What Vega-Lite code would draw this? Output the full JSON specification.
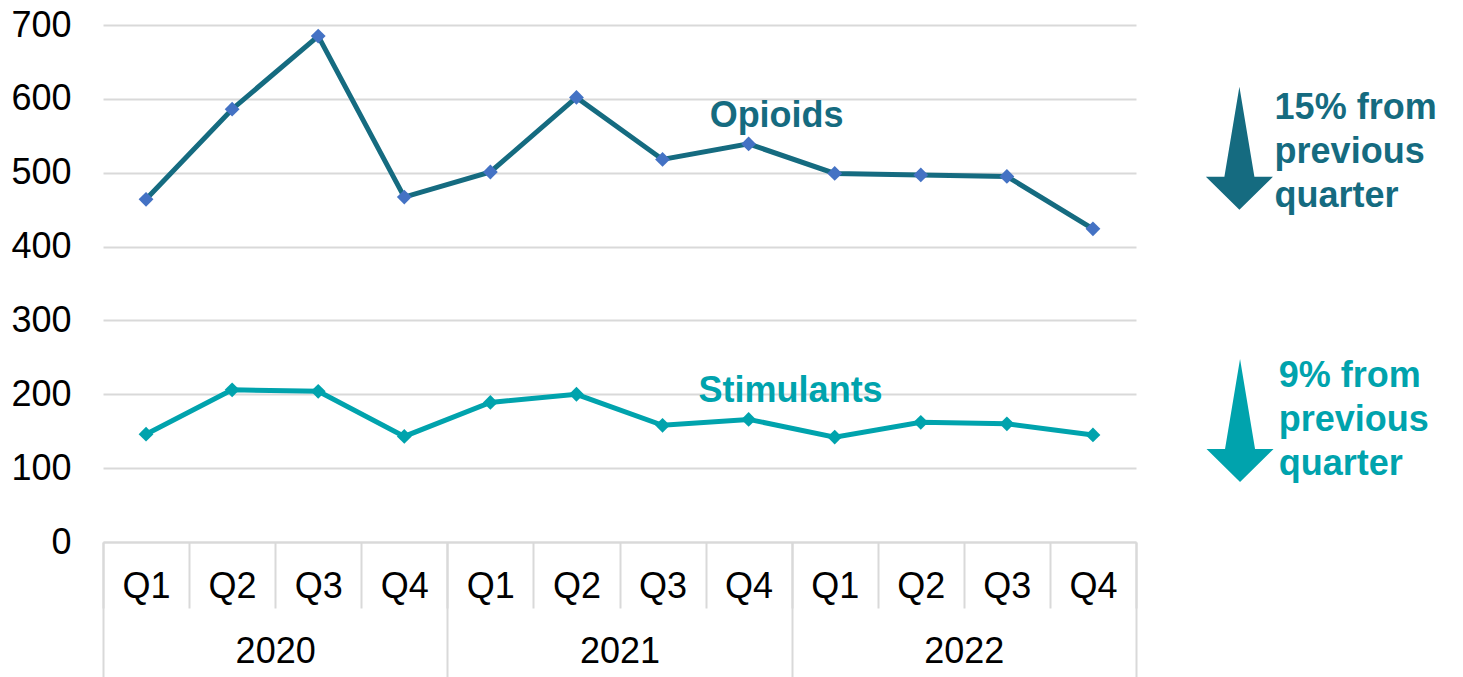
{
  "$schema": "https://vega.github.io/schema/vega-lite/v6.json",
  "padding": {"left": 10, "top": 7, "right": 5, "bottom": 0},
  "spacing": 0,
  "config": {
    "view": {"stroke": null},
    "font": "Liberation Sans",
    "axis": {"labelFont": "Liberation Sans", "labelColor": "#000000"}
  },
  "resolve": {"scale": {"x": "independent", "y": "independent", "fill": "independent", "stroke": "independent"}},
  "hconcat": [
    {
      "width": 1033,
      "height": 517,
      "data": {
        "values": [
          {"key": "2020 Q1", "year": "2020", "series": "Opioids", "value": 464},
          {"key": "2020 Q2", "year": "2020", "series": "Opioids", "value": 586},
          {"key": "2020 Q3", "year": "2020", "series": "Opioids", "value": 685},
          {"key": "2020 Q4", "year": "2020", "series": "Opioids", "value": 467},
          {"key": "2021 Q1", "year": "2021", "series": "Opioids", "value": 501},
          {"key": "2021 Q2", "year": "2021", "series": "Opioids", "value": 602},
          {"key": "2021 Q3", "year": "2021", "series": "Opioids", "value": 518},
          {"key": "2021 Q4", "year": "2021", "series": "Opioids", "value": 539},
          {"key": "2022 Q1", "year": "2022", "series": "Opioids", "value": 499},
          {"key": "2022 Q2", "year": "2022", "series": "Opioids", "value": 497},
          {"key": "2022 Q3", "year": "2022", "series": "Opioids", "value": 495},
          {"key": "2022 Q4", "year": "2022", "series": "Opioids", "value": 424},
          {"key": "2020 Q1", "year": "2020", "series": "Stimulants", "value": 146},
          {"key": "2020 Q2", "year": "2020", "series": "Stimulants", "value": 206},
          {"key": "2020 Q3", "year": "2020", "series": "Stimulants", "value": 204},
          {"key": "2020 Q4", "year": "2020", "series": "Stimulants", "value": 143},
          {"key": "2021 Q1", "year": "2021", "series": "Stimulants", "value": 189},
          {"key": "2021 Q2", "year": "2021", "series": "Stimulants", "value": 200},
          {"key": "2021 Q3", "year": "2021", "series": "Stimulants", "value": 158},
          {"key": "2021 Q4", "year": "2021", "series": "Stimulants", "value": 166},
          {"key": "2022 Q1", "year": "2022", "series": "Stimulants", "value": 142},
          {"key": "2022 Q2", "year": "2022", "series": "Stimulants", "value": 162},
          {"key": "2022 Q3", "year": "2022", "series": "Stimulants", "value": 160},
          {"key": "2022 Q4", "year": "2022", "series": "Stimulants", "value": 145}
        ]
      },
      "layer": [
        {
          "encoding": {
            "x": {
              "field": "key", "type": "ordinal",
              "scale": {"type": "band", "paddingInner": 0, "paddingOuter": 0},
              "axis": {
                "title": null, "labelExpr": "split(datum.value, ' ')[1]", "labelAngle": 0,
                "tickBand": "extent", "tickSize": 66, "tickColor": "#d9d9d9", "tickWidth": 2,
                "domainColor": "#d9d9d9", "domainWidth": 2, "grid": false,
                "labelFontSize": 36, "labelBaseline": "middle", "labelPadding": -22
              }
            },
            "y": {
              "field": "value", "type": "quantitative",
              "scale": {"domain": [0, 700]},
              "axis": {
                "title": null, "values": [0, 100, 200, 300, 400, 500, 600, 700],
                "domain": false, "ticks": false, "labelPadding": 32, "labelFontSize": 36,
                "gridColor": "#d9d9d9", "gridWidth": 2
              }
            }
          },
          "layer": [
            {
              "mark": {"type": "line", "strokeWidth": 5},
              "encoding": {
                "stroke": {"field": "series", "type": "nominal", "scale": {"domain": ["Opioids", "Stimulants"], "range": ["#156B80", "#00A3AD"]}, "legend": null}
              }
            },
            {
              "mark": {"type": "point", "shape": "diamond", "filled": true, "size": 220, "opacity": 1},
              "encoding": {
                "fill": {"field": "series", "type": "nominal", "scale": {"domain": ["Opioids", "Stimulants"], "range": ["#4472C4", "#00A3AD"]}, "legend": null}
              }
            },
            {
              "data": {"values": [{"key": "2021 Q4", "value": 562, "label": "Opioids"}]},
              "mark": {"type": "text", "align": "center", "baseline": "alphabetic", "dx": 28, "fontSize": 36, "fontWeight": "bold", "color": "#156B80"},
              "encoding": {"text": {"field": "label"}}
            },
            {
              "data": {"values": [{"key": "2021 Q4", "value": 189.5, "label": "Stimulants"}]},
              "mark": {"type": "text", "align": "center", "baseline": "alphabetic", "dx": 42, "fontSize": 36, "fontWeight": "bold", "color": "#00A3AD"},
              "encoding": {"text": {"field": "label"}}
            }
          ]
        },
        {
          "mark": {"type": "point", "opacity": 0},
          "encoding": {
            "x": {
              "field": "year", "type": "ordinal",
              "scale": {"type": "band", "paddingInner": 0, "paddingOuter": 0},
              "axis": {
                "orient": "bottom", "title": null, "labelAngle": 0,
                "tickBand": "extent", "tickSize": 135, "tickColor": "#d9d9d9", "tickWidth": 2,
                "domain": false, "grid": false,
                "labelFontSize": 36, "labelBaseline": "middle", "labelPadding": -26
              }
            }
          }
        }
      ],
      "resolve": {"scale": {"x": "independent"}, "axis": {"x": "independent"}}
    },
    {
      "width": 320,
      "height": 517,
      "data": {
        "values": [
          {"series": "Opioids", "ax": 0.32, "ay": 533, "tx": 0.43, "ty": 587, "label": "15% from\nprevious\nquarter"},
          {"series": "Stimulants", "ax": 0.322, "ay": 164.5, "tx": 0.443, "ty": 224.5, "label": "9% from\nprevious\nquarter"}
        ]
      },
      "layer": [
        {
          "mark": {"type": "point", "shape": "M0,-1L0.244,0.463L0.545,0.463L0,1L-0.545,0.463L-0.244,0.463Z", "size": 15129, "filled": true, "opacity": 1, "strokeWidth": 0},
          "encoding": {
            "x": {"field": "ax", "type": "quantitative", "scale": {"domain": [0, 1]}, "axis": null},
            "y": {"field": "ay", "type": "quantitative", "scale": {"domain": [0, 700]}, "axis": null},
            "fill": {"field": "series", "type": "nominal", "scale": {"domain": ["Opioids", "Stimulants"], "range": ["#156B80", "#00A3AD"]}, "legend": null}
          }
        },
        {
          "mark": {"type": "text", "align": "left", "baseline": "middle", "fontSize": 36, "fontWeight": "bold", "lineBreak": "\n", "lineHeight": 44},
          "encoding": {
            "x": {"field": "tx", "type": "quantitative", "scale": {"domain": [0, 1]}, "axis": null},
            "y": {"field": "ty", "type": "quantitative", "scale": {"domain": [0, 700]}, "axis": null},
            "text": {"field": "label"},
            "fill": {"field": "series", "type": "nominal", "scale": {"domain": ["Opioids", "Stimulants"], "range": ["#156B80", "#00A3AD"]}, "legend": null}
          }
        }
      ]
    }
  ]
}
